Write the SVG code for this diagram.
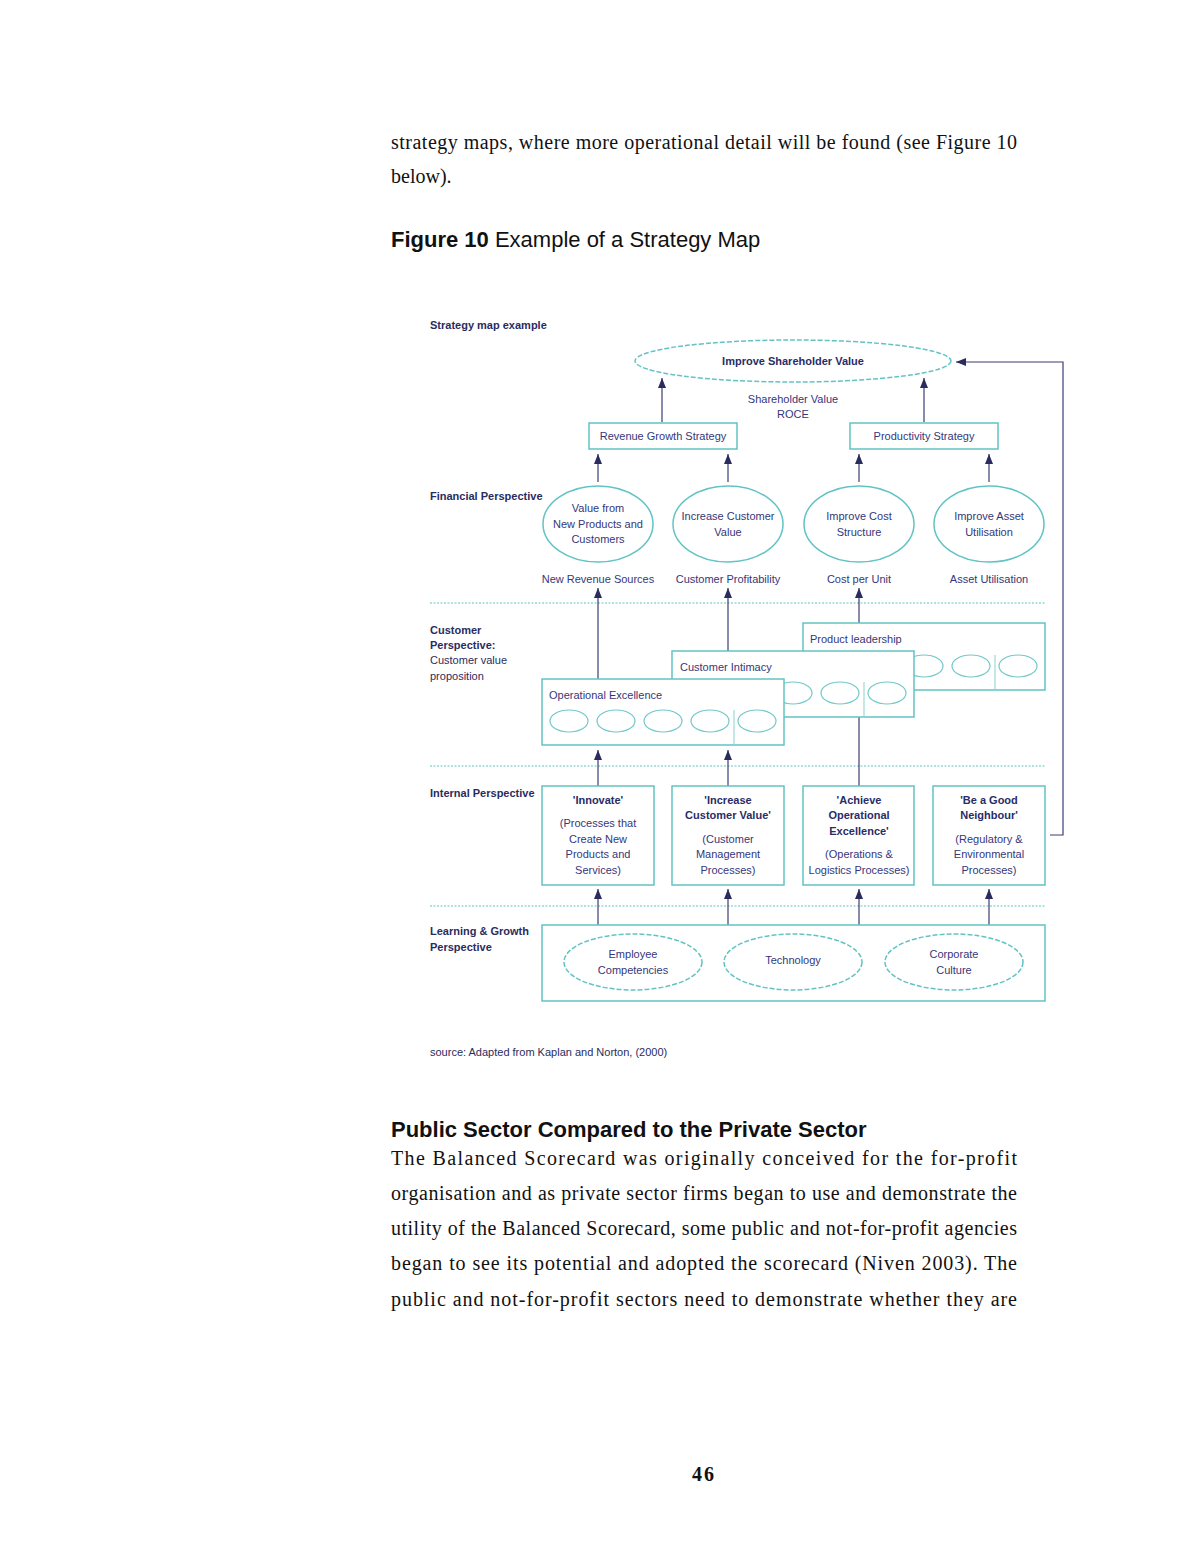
<svg xmlns="http://www.w3.org/2000/svg" width="1200" height="1553" viewBox="0 0 1200 1553">
<style>
.body{font-family:"Liberation Serif","Times New Roman",serif;font-size:20px;fill:#111}
.head{font-family:"Liberation Sans",Arial,sans-serif;font-size:22px;fill:#111}
.d{font-family:"Liberation Sans",Arial,sans-serif;font-size:11px;fill:#35377a;text-anchor:middle}
.db{font-family:"Liberation Sans",Arial,sans-serif;font-size:11px;fill:#2a2c66;font-weight:bold;text-anchor:middle}
.lab{font-family:"Liberation Sans",Arial,sans-serif;font-size:11px;fill:#2a2c5e;font-weight:bold}
.labr{font-family:"Liberation Sans",Arial,sans-serif;font-size:11px;fill:#2a2c5e}
.dl{font-family:"Liberation Sans",Arial,sans-serif;font-size:11px;fill:#35377a}
.box{fill:#fff;stroke:#62c3c4;stroke-width:1.5}
.ell{fill:#fff;stroke:#62c3c4;stroke-width:1.5}
.dash{fill:#fff;stroke:#62c3c4;stroke-width:1.5;stroke-dasharray:5 2}
.sm{fill:none;stroke:#72c8c9;stroke-width:1.2}
.div{stroke:#8ccfd0;stroke-width:1}
.sep{stroke:#62c3c4;stroke-width:1.2;stroke-dasharray:2 1.5}
.con{fill:none;stroke:#3c3d72;stroke-width:1.2}
</style>
<defs>
<marker id="ah" markerWidth="10" markerHeight="8" refX="10" refY="4" orient="auto" markerUnits="userSpaceOnUse" viewBox="0 0 10 8">
<path d="M0,0 L10,4 L0,8 Z" fill="#2a2c5e"/>
</marker>
</defs>

<rect width="1200" height="1553" fill="#fff"/>

<g id="page-text">
<text class="body" x="391" y="149" textLength="626" lengthAdjust="spacing">strategy maps, where more operational detail will be found (see Figure 10</text>
<text class="body" x="391" y="183">below).</text>
<text class="head" x="391" y="247"><tspan font-weight="bold">Figure 10</tspan> Example of a Strategy Map</text>
<text class="head" x="391" y="1137" font-weight="bold">Public Sector Compared to the Private Sector</text>
<text class="body" x="391" y="1165" textLength="626" lengthAdjust="spacing">The Balanced Scorecard was originally conceived for the for-profit</text>
<text class="body" x="391" y="1200" textLength="626" lengthAdjust="spacing">organisation and as private sector firms began to use and demonstrate the</text>
<text class="body" x="391" y="1235" textLength="626" lengthAdjust="spacing">utility of the Balanced Scorecard, some public and not-for-profit agencies</text>
<text class="body" x="391" y="1270" textLength="626" lengthAdjust="spacing">began to see its potential and adopted the scorecard (Niven 2003).  The</text>
<text class="body" x="391" y="1306" textLength="626" lengthAdjust="spacing">public and not-for-profit sectors need to demonstrate whether they are</text>
<text class="body" x="704" y="1481" text-anchor="middle" font-weight="bold" font-size="18" letter-spacing="2">46</text>
</g>

<g id="labels">
<text class="lab" x="430" y="329">Strategy map example</text>
<text class="lab" x="430" y="500">Financial Perspective</text>
<text class="lab" x="430" y="634">Customer</text>
<text class="lab" x="430" y="649">Perspective:</text>
<text class="labr" x="430" y="664">Customer value</text>
<text class="labr" x="430" y="680">proposition</text>
<text class="lab" x="430" y="797">Internal Perspective</text>
<text class="lab" x="430" y="935">Learning &amp; Growth</text>
<text class="lab" x="430" y="951">Perspective</text>
<text class="labr" x="430" y="1056">source: Adapted from Kaplan and Norton, (2000)</text>
</g>

<g id="separators">
<line class="sep" x1="430" y1="603" x2="1046" y2="603"/>
<line class="sep" x1="430" y1="766" x2="1046" y2="766"/>
<line class="sep" x1="430" y1="906" x2="1046" y2="906"/>
</g>

<g id="connectors">
<line class="con" x1="662" y1="422" x2="662" y2="378" marker-end="url(#ah)"/>
<line class="con" x1="924" y1="422" x2="924" y2="378" marker-end="url(#ah)"/>
<path class="con" d="M1050,835 H1063 V362 H956" marker-end="url(#ah)"/>
<line class="con" x1="598" y1="482" x2="598" y2="454" marker-end="url(#ah)"/>
<line class="con" x1="728" y1="482" x2="728" y2="454" marker-end="url(#ah)"/>
<line class="con" x1="859" y1="482" x2="859" y2="454" marker-end="url(#ah)"/>
<line class="con" x1="989" y1="482" x2="989" y2="454" marker-end="url(#ah)"/>
<line class="con" x1="598" y1="679" x2="598" y2="588" marker-end="url(#ah)"/>
<line class="con" x1="728" y1="651" x2="728" y2="588" marker-end="url(#ah)"/>
<line class="con" x1="859" y1="623" x2="859" y2="588" marker-end="url(#ah)"/>
<line class="con" x1="598" y1="786" x2="598" y2="750" marker-end="url(#ah)"/>
<line class="con" x1="728" y1="786" x2="728" y2="750" marker-end="url(#ah)"/>
<line class="con" x1="859" y1="717" x2="859" y2="786"/>
<line class="con" x1="598" y1="925" x2="598" y2="889" marker-end="url(#ah)"/>
<line class="con" x1="728" y1="925" x2="728" y2="889" marker-end="url(#ah)"/>
<line class="con" x1="859" y1="925" x2="859" y2="889" marker-end="url(#ah)"/>
<line class="con" x1="989" y1="925" x2="989" y2="889" marker-end="url(#ah)"/>
</g>

<g id="node-shareholder">
<ellipse class="dash" cx="793" cy="361" rx="158" ry="21"/>
<text class="db" x="793" y="365">Improve Shareholder Value</text>
</g>
<g id="measure-shareholder">
<text class="d" x="793" y="403">Shareholder Value</text>
<text class="d" x="793" y="418">ROCE</text>
</g>

<g id="node-revenue">
<rect class="box" x="589" y="423" width="148" height="26"/>
<text class="d" x="663" y="440">Revenue Growth Strategy</text>
</g>
<g id="node-productivity">
<rect class="box" x="850" y="423" width="148" height="26"/>
<text class="d" x="924" y="440">Productivity Strategy</text>
</g>

<g id="node-value-new">
<ellipse class="ell" cx="598" cy="524" rx="55" ry="38"/>
<text class="d" x="598" y="512">Value from</text>
<text class="d" x="598" y="528">New Products and</text>
<text class="d" x="598" y="543">Customers</text>
<text class="d" x="598" y="583">New Revenue Sources</text>
</g>
<g id="node-increase-cv">
<ellipse class="ell" cx="728" cy="524" rx="55" ry="38"/>
<text class="d" x="728" y="520">Increase Customer</text>
<text class="d" x="728" y="536">Value</text>
<text class="d" x="728" y="583">Customer Profitability</text>
</g>
<g id="node-cost">
<ellipse class="ell" cx="859" cy="524" rx="55" ry="38"/>
<text class="d" x="859" y="520">Improve Cost</text>
<text class="d" x="859" y="536">Structure</text>
<text class="d" x="859" y="583">Cost per Unit</text>
</g>
<g id="node-asset">
<ellipse class="ell" cx="989" cy="524" rx="55" ry="38"/>
<text class="d" x="989" y="520">Improve Asset</text>
<text class="d" x="989" y="536">Utilisation</text>
<text class="d" x="989" y="583">Asset Utilisation</text>
</g>

<g id="node-product-leadership">
<rect class="box" x="803" y="623" width="242" height="67"/>
<text class="dl" x="810" y="643">Product leadership</text>
<ellipse class="sm" cx="924" cy="666" rx="19" ry="11"/>
<ellipse class="sm" cx="971" cy="666" rx="19" ry="11"/>
<ellipse class="sm" cx="1018" cy="666" rx="19" ry="11"/>
<line class="div" x1="995" y1="655" x2="995" y2="690"/>
</g>
<g id="node-customer-intimacy">
<rect class="box" x="672" y="651" width="242" height="66"/>
<text class="dl" x="680" y="671">Customer Intimacy</text>
<ellipse class="sm" cx="793" cy="693" rx="19" ry="11"/>
<ellipse class="sm" cx="840" cy="693" rx="19" ry="11"/>
<ellipse class="sm" cx="887" cy="693" rx="19" ry="11"/>
<line class="div" x1="864" y1="682" x2="864" y2="717"/>
</g>
<g id="node-operational-excellence">
<rect class="box" x="542" y="679" width="242" height="66"/>
<text class="dl" x="549" y="699">Operational Excellence</text>
<ellipse class="sm" cx="569" cy="721" rx="19" ry="11"/>
<ellipse class="sm" cx="616" cy="721" rx="19" ry="11"/>
<ellipse class="sm" cx="663" cy="721" rx="19" ry="11"/>
<ellipse class="sm" cx="710" cy="721" rx="19" ry="11"/>
<ellipse class="sm" cx="757" cy="721" rx="19" ry="11"/>
<line class="div" x1="734" y1="710" x2="734" y2="745"/>
</g>

<g id="node-innovate">
<rect class="box" x="542" y="786" width="112" height="99"/>
<text class="db" x="598" y="804">'Innovate'</text>
<text class="d" x="598" y="827">(Processes that</text>
<text class="d" x="598" y="843">Create New</text>
<text class="d" x="598" y="858">Products and</text>
<text class="d" x="598" y="874">Services)</text>
</g>
<g id="node-increase">
<rect class="box" x="672" y="786" width="112" height="99"/>
<text class="db" x="728" y="804">'Increase</text>
<text class="db" x="728" y="819">Customer Value'</text>
<text class="d" x="728" y="843">(Customer</text>
<text class="d" x="728" y="858">Management</text>
<text class="d" x="728" y="874">Processes)</text>
</g>
<g id="node-achieve">
<rect class="box" x="803" y="786" width="111" height="99"/>
<text class="db" x="859" y="804">'Achieve</text>
<text class="db" x="859" y="819">Operational</text>
<text class="db" x="859" y="835">Excellence'</text>
<text class="d" x="859" y="858">(Operations &amp;</text>
<text class="d" x="859" y="874">Logistics Processes)</text>
</g>
<g id="node-neighbour">
<rect class="box" x="933" y="786" width="112" height="99"/>
<text class="db" x="989" y="804">'Be a Good</text>
<text class="db" x="989" y="819">Neighbour'</text>
<text class="d" x="989" y="843">(Regulatory &amp;</text>
<text class="d" x="989" y="858">Environmental</text>
<text class="d" x="989" y="874">Processes)</text>
</g>

<g id="node-learning">
<rect class="box" x="542" y="925" width="503" height="76"/>
</g>
<g id="node-employee">
<ellipse class="dash" cx="633" cy="962" rx="69" ry="28"/>
<text class="d" x="633" y="958">Employee</text>
<text class="d" x="633" y="974">Competencies</text>
</g>
<g id="node-technology">
<ellipse class="dash" cx="793" cy="962" rx="69" ry="28"/>
<text class="d" x="793" y="964">Technology</text>
</g>
<g id="node-culture">
<ellipse class="dash" cx="954" cy="962" rx="69" ry="28"/>
<text class="d" x="954" y="958">Corporate</text>
<text class="d" x="954" y="974">Culture</text>
</g>
</svg>
